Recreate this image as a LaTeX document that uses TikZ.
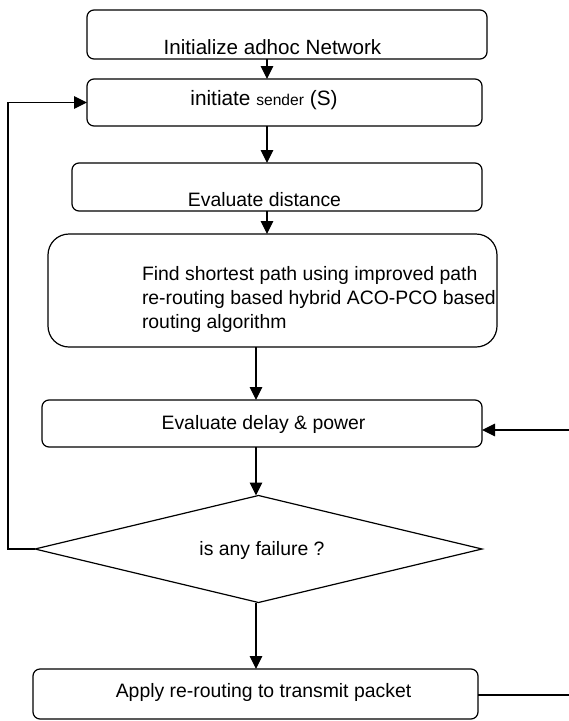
\documentclass[tikz,border=0pt]{standalone}
\usepackage{fontspec}
\setmainfont{Liberation Sans}
\usetikzlibrary{arrows.meta,shapes.geometric}
\begin{document}
\begin{tikzpicture}[x=1pt,y=-1pt,
  every node/.style={inner sep=0pt,outer sep=0pt},
  box/.style={draw,line width=1.2pt,rounded corners=7pt},
  bigbox/.style={draw,line width=1.2pt,rounded corners=21pt},
  lbl/.style={anchor=base,font=\fontsize{19.4}{23}\selectfont},
  lblw/.style={anchor=base west,font=\fontsize{19.4}{23}\selectfont},
  arr/.style={line width=1.2pt,-{Triangle[width=12.5pt,length=13pt]}},
  ln/.style={line width=1.2pt}]
\useasboundingbox (0,0) rectangle (569,721);
% boxes
\node[box,minimum width=400pt,minimum height=49pt] (b1) at (287,34.5) {};
\node[box,minimum width=395pt,minimum height=47pt] (b2) at (284.5,102.5) {};
\node[box,minimum width=410pt,minimum height=48pt] (b3) at (277,187) {};
\node[bigbox,minimum width=449pt,minimum height=113pt] (b4) at (272.5,290.5) {};
\node[box,minimum width=440pt,minimum height=47pt] (b5) at (262,423.5) {};
\node[draw,line width=1.2pt,diamond,minimum width=447pt,minimum height=107pt] (d) at (258.5,549) {};
\node[box,minimum width=445pt,minimum height=50pt] (b6) at (255.5,694) {};
% texts
\node[anchor=base,font=\fontsize{20.6}{24}\selectfont] (t1) at (272.5,54) {Initialize adhoc Network};
\node[anchor=base,font=\fontsize{20.8}{24}\selectfont] (t2) at (264,105) {initiate {\fontsize{15.6}{18}\selectfont sender} (S)};
\node[lbl] (t3) at (264.5,206) {Evaluate distance};
\node[lblw] (t4a) at (142,280) {Find shortest path using improved path};
\node[lblw] (t4b) at (142,304) {re-routing based hybrid ACO-PCO based};
\node[lblw] (t4c) at (142,328) {routing algorithm};
\node[lbl] (t5) at (263.5,429) {Evaluate delay \& power};
\node[lbl] (t6) at (262,555) {is any failure ?};
\node[lbl] (t7) at (263.5,697) {Apply re-routing to transmit packet};
% columns
\coordinate (c1) at (267,0);
\coordinate (c2) at (256,0);
\coordinate (r1) at (569,430);
\coordinate (r2) at (569,695);
% connectors
\draw[arr] (b1.south -| c1) -- (b2.north -| c1);
\draw[arr] (b2.south -| c1) -- (b3.north -| c1);
\draw[arr] (b3.south -| c1) -- (b4.north -| c1);
\draw[arr] (b4.south -| c2) -- (b5.north -| c2);
\draw[arr] (b5.south -| c2) -- (d.north -| c2);
\draw[arr] (d.south -| c2) -- (b6.north -| c2);
\draw[arr] (d.west) -- ++(-27,0) |- (b2.west);
\draw[arr] (r1) -- (r1 -| b5.east);
\draw[ln] (r2 -| b6.east) -- (r2);
\end{tikzpicture}
\end{document}
